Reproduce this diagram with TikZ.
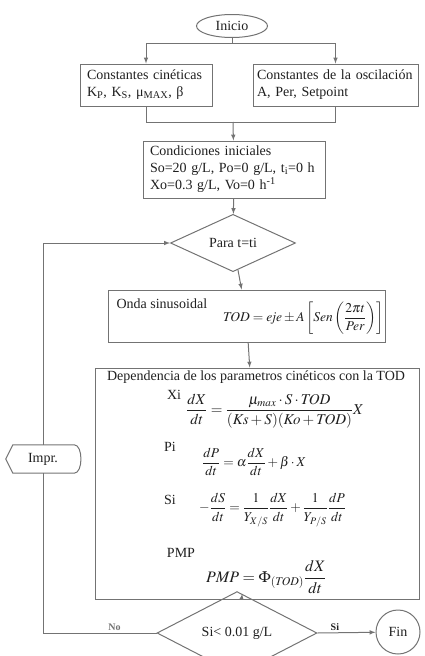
\documentclass[tikz,border=0pt]{standalone}
\usepackage{amsmath}
\usepackage{mathptmx}
\usepackage{fontspec}
\setmainfont{Liberation Serif}
\usepackage{tikz}
\usetikzlibrary{arrows}
\usetikzlibrary{shapes.geometric}
\definecolor{linea}{gray}{0.45}
\definecolor{texto}{gray}{0.12}
\tikzstyle{caja}=[rectangle, draw=linea, line width=1pt, inner sep=0pt, align=left]
\tikzstyle{rombo}=[diamond, draw=linea, line width=1pt, inner sep=0pt]
\tikzstyle{elipse}=[ellipse, draw=linea, line width=1pt, inner sep=0pt]
\tikzstyle{etiq}=[font=\fontsize{10}{12}\selectfont\bfseries, inner sep=2pt]
\tikzstyle{ecua}=[anchor=west, inner sep=1pt, font=\fontsize{13.5}{16}\selectfont]
\tikzset{flecha/.style={-latex, draw=linea, line width=1pt}}

\begin{document}
\begin{tikzpicture}[x=1pt, y=-1pt, font=\fontsize{14}{17}\selectfont, text=texto]
		\useasboundingbox (0,0) rectangle (424,656);
		\node[elipse, minimum width=71, minimum height=23] (inicio) at (232,26) {Inicio};
		\node[caja, minimum width=132, minimum height=42, text width=118] (cinet) at (146,85) {Constantes cinéticas\\K\textsubscript{P}, K\textsubscript{S}, μ\textsubscript{MAX}, β};
		\node[caja, minimum width=165, minimum height=42, text width=157] (oscil) at (335.5,85) {Constantes de la oscilación\\A, Per, Setpoint};
		\node[caja, minimum width=182, minimum height=57, text width=168] (ini) at (234,169.5) {Condiciones iniciales\\So=20 g/L, Po=0 g/L, t\textsubscript{i}=0 h\\Xo=0.3 g/L, Vo=0 h\textsuperscript{-1}};
		\node[rombo, minimum width=125, minimum height=47] (para) at (233,243) {Para t=ti};
		\node[caja, minimum width=277, minimum height=52] (onda) at (246.5,316) {};
		\node[caja, minimum width=324, minimum height=231] (dep) at (257,483.5) {};
		\node[rombo, minimum width=160, minimum height=43] (cond) at (237,633) {Si< 0.01 g/L};
		\node[circle, draw=linea, line width=1pt, minimum size=44, inner sep=0pt] (fin) at (398,632) {Fin};
		\node[inner sep=0pt, minimum width=74, minimum height=28] (impr) at (43,459) {Impr.};
		\draw[linea, line width=1pt] (impr.west) -- ([xshift=7]impr.north west) -- ([xshift=-6]impr.north east) .. controls ([xshift=3]impr.north east) and ([xshift=3]impr.south east) .. ([xshift=-6]impr.south east) -- ([xshift=7]impr.south west) -- cycle;
		% textos de las cajas
		\node[anchor=west] (ondat) at (113,304) {Onda sinusoidal};
		\node[ecua, font=\fontsize{13.5}{16}\selectfont] (ecTOD) at (222,318) {$\mathit{TOD}=\mathit{eje}\pm A\left[\mathit{Sen}\left(\dfrac{2\pi t}{\mathit{Per}}\right)\right]$};
		\node (titulo) at (256,377) {Dependencia de los parametros cinéticos con la TOD};
		\node (xi) at (174,395) {Xi};
		\node[ecua, font=\fontsize{15}{18}\selectfont] (ecX) at (185,411) {$\displaystyle\frac{dX}{dt}=\frac{\mu_{max}\cdot S\cdot \mathit{TOD}}{(\mathit{Ks}+S)(\mathit{Ko}+\mathit{TOD})}X$};
		\node (pi) at (170,447) {Pi};
		\node[ecua] (ecP) at (201,462) {$\displaystyle\frac{dP}{dt}=\alpha\frac{dX}{dt}+\beta\cdot X$};
		\node (si) at (170,500) {Si};
		\node[ecua] (ecS) at (198,510) {$\displaystyle-\frac{dS}{dt}=\frac{1}{Y_{X/S}}\frac{dX}{dt}+\frac{1}{Y_{P/S}}\frac{dP}{dt}$};
		\node (pmp) at (181,553) {PMP};
		\node[ecua, font=\fontsize{16}{19}\selectfont] (ecPMP) at (205,577) {$\displaystyle \mathit{PMP}=\Phi_{(\mathit{TOD})}\frac{dX}{dt}$};
		% conectores
		\coordinate (rama) at (232,43);
		\coordinate (union) at (233,122);
		\coordinate (esq) at (impr |- cond);
		\draw[linea, line width=1pt] (inicio) -- (rama);
		\draw[flecha] (rama) -| (cinet);
		\draw[flecha] (rama) -| (oscil);
		\draw[linea, line width=1pt] (cinet) |- (union);
		\draw[linea, line width=1pt] (oscil) |- (union);
		\draw[flecha] (union) -- (ini);
		\draw[flecha] (ini) -- (para);
		\draw[flecha] (para) -- (onda);
		\draw[flecha] (onda) -- (dep);
		\draw[flecha] (dep) -- (cond);
		\draw[linea, line width=1pt] (cond.west) -- node[etiq, above, pos=0.37] {No} (esq) -- (impr.south);
		\draw[flecha] (impr.north) |- (para.west);
		\draw[flecha] (cond.east) -- node[etiq, above, pos=0.3] {Si} (fin);
		\end{tikzpicture}
\end{document}
